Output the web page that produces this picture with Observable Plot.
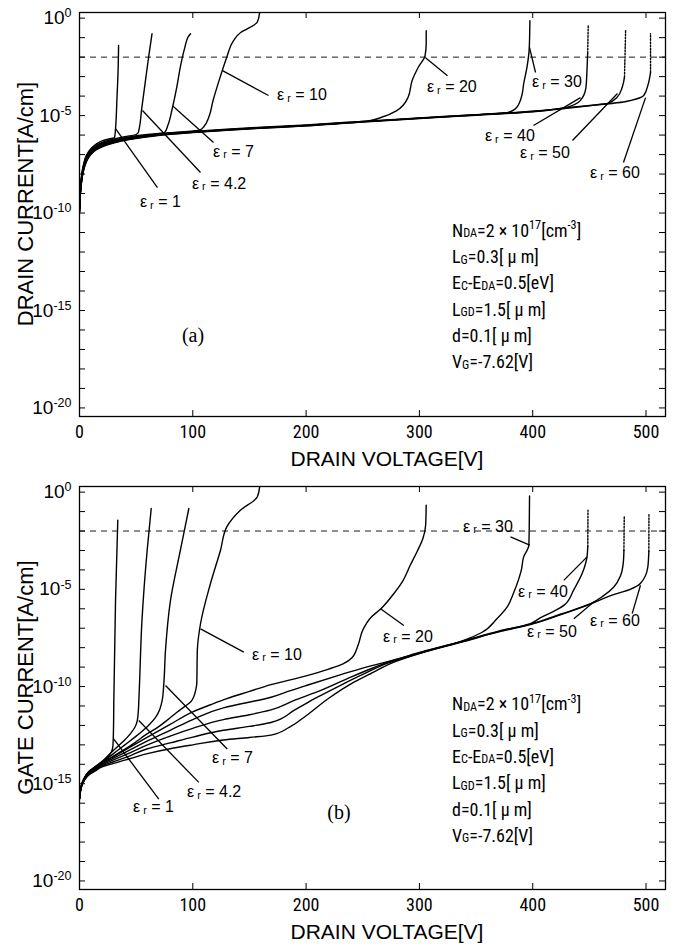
<!DOCTYPE html>
<html><head><meta charset="utf-8">
<script src="https://cdn.jsdelivr.net/npm/d3@7"></script>
<script src="https://cdn.jsdelivr.net/npm/@observablehq/plot@0.6"></script>
<style>
body{margin:0;background:#fff;}
svg{display:block;}
</style></head><body><div id="chart"></div>
<script>
// ---------- DATA: [drain voltage V, log10(current A/cm)] ----------
const xTicks = [0, 100, 200, 300, 400, 500];
const yLabelExps = [0, -5, -10, -15, -20];
const yDecadeExps = [0,-1,-2,-3,-4,-5,-6,-7,-8,-9,-10,-11,-12,-13,-14,-15,-16,-17,-18,-19,-20];
const criterionExp = [-2];
const erNames = ["1", "4.2", "7", "10", "20", "30", "40", "50", "60"];

// (a) drain current
const drainEr1 = [[0,-9.7],[1,-8.55],[3,-7.65],[6,-7.05],[10,-6.7],[15,-6.45],[20,-6.3],[26,-6.2],[31,-6.12],[32,-5.5],[33,-4.2],[34,-2.8],[34.5,-1.4]];
const drainEr4_2 = [[0,-9.75],[1,-8.62],[3,-7.72],[6,-7.12],[10,-6.77],[15,-6.52],[20,-6.37],[30,-6.2],[40,-6.08],[50,-5.97],[52,-5.85],[55,-4.6],[58,-3.3],[61,-2.0],[64,-0.8]];
const drainEr7 = [[0,-9.8],[1,-8.68],[3,-7.78],[6,-7.18],[10,-6.83],[15,-6.58],[20,-6.42],[30,-6.25],[45,-6.08],[60,-5.97],[75,-5.88],[78,-5.5],[82,-4.6],[86,-3.5],[89,-2.5],[93,-1.5],[96,-0.95],[98,-0.8]];
const drainEr10 = [[0,-9.85],[1,-8.72],[3,-7.82],[6,-7.22],[10,-6.87],[15,-6.62],[20,-6.47],[30,-6.3],[45,-6.12],[60,-6.0],[80,-5.88],[100,-5.79],[106,-5.75],[110,-5.55],[114,-5.1],[118,-4.2],[124,-3.05],[130,-2.0],[136,-1.15],[142,-0.75],[148,-0.55],[157,-0.2],[159,0.29]];
const drainEr20 = [[0,-9.9],[1,-8.76],[3,-7.86],[6,-7.26],[10,-6.9],[15,-6.65],[20,-6.5],[30,-6.32],[45,-6.15],[60,-6.02],[80,-5.9],[100,-5.82],[130,-5.7],[160,-5.6],[200,-5.48],[230,-5.37],[255,-5.27],[266,-5.1],[280,-4.74],[290,-4.06],[293.6,-3.2],[299,-2.52],[305,-1.92],[306,-1.3],[306,-0.65]];
const drainEr30 = [[0,-9.92],[1,-8.8],[3,-7.9],[6,-7.3],[10,-6.93],[15,-6.68],[20,-6.53],[30,-6.35],[45,-6.17],[60,-6.04],[80,-5.92],[100,-5.84],[130,-5.72],[160,-5.62],[200,-5.5],[250,-5.3],[300,-5.12],[350,-4.95],[378,-4.84],[386,-4.57],[390.7,-3.89],[392,-3.37],[395,-2.5],[397,-1.5],[397.5,-0.13]];
const drainEr40 = [[0,-9.95],[1,-8.82],[3,-7.92],[6,-7.32],[10,-6.95],[15,-6.7],[20,-6.55],[30,-6.37],[45,-6.19],[60,-6.06],[80,-5.94],[100,-5.85],[130,-5.73],[160,-5.63],[200,-5.51],[250,-5.31],[300,-5.13],[350,-4.96],[400,-4.78],[427,-4.62],[442,-4.23],[447,-3.55],[448,-2.52],[448.5,-1.8]];
const drainEr40Dot = [[448.5,-1.8],[449,-0.38]];
const drainEr50 = [[0,-9.97],[1,-8.85],[3,-7.95],[6,-7.35],[10,-6.97],[15,-6.72],[20,-6.57],[30,-6.39],[45,-6.2],[60,-6.07],[80,-5.95],[100,-5.86],[130,-5.74],[160,-5.64],[200,-5.52],[250,-5.32],[300,-5.14],[350,-4.97],[400,-4.79],[430,-4.6],[457,-4.44],[466,-4.38],[474.5,-4.06],[479,-3.55],[481,-3.03]];
const drainEr50Dot = [[481,-3.03],[482,-0.64]];
const drainEr60 = [[0,-10.0],[1,-8.88],[3,-7.98],[6,-7.38],[10,-7.0],[15,-6.75],[20,-6.6],[30,-6.41],[45,-6.22],[60,-6.09],[80,-5.96],[100,-5.87],[130,-5.75],[160,-5.65],[200,-5.53],[250,-5.33],[300,-5.15],[350,-4.98],[400,-4.8],[430,-4.62],[457,-4.45],[480,-4.3],[486,-4.23],[498,-3.97],[502,-3.37],[504,-2.78]];
const drainEr60Dot = [[504,-2.78],[504,-0.8]];

// (b) gate current
const gateEr1 = [[0,-15.7],[2,-15.0],[4,-14.72],[8,-14.38],[14,-14.12],[20,-13.88],[25,-13.62],[28,-13.38],[29.5,-13.05],[30,-12.2],[30.3,-10.7],[31.8,-5.57],[33.8,-1.44]];
const gateEr4_2 = [[0,-15.72],[2,-15.02],[4,-14.74],[8,-14.4],[14,-14.12],[20,-13.85],[27,-13.45],[33,-13.12],[39,-12.8],[45,-12.42],[49,-12.08],[51,-11.75],[52,-11.2],[52.4,-10.7],[55.3,-6.43],[59.7,-3.0],[63.3,-0.84]];
const gateEr7 = [[0,-15.74],[2,-15.04],[4,-14.76],[8,-14.42],[14,-14.15],[20,-13.88],[30,-13.45],[40,-13.0],[50,-12.55],[60,-12.05],[67,-11.6],[71,-11.15],[73,-10.7],[74.4,-9.86],[75.9,-8.14],[80.3,-5.57],[89,-3.0],[95,-1.27],[96.5,-0.84]];
const gateEr10 = [[0,-15.75],[2,-15.05],[4,-14.77],[8,-14.43],[14,-14.17],[20,-13.9],[27,-13.68],[38,-13.3],[48,-12.92],[58,-12.5],[69,-12.1],[78,-11.7],[86,-11.32],[93,-11.02],[98,-10.8],[101,-10.5],[102.5,-10.2],[103.5,-9.86],[104,-8.14],[106.8,-6.77],[115.6,-4.7],[124.4,-3.0],[130,-1.79],[142,-0.93],[157,-0.24],[159,0.27]];
const gateEr20 = [[0,-15.76],[2,-15.06],[4,-14.78],[8,-14.45],[14,-14.2],[20,-13.93],[30,-13.6],[45,-13.1],[60,-12.6],[80,-11.95],[100,-11.3],[115,-10.95],[130,-10.62],[150,-10.25],[169,-9.9],[200,-9.45],[220,-9.1],[233,-8.82],[240,-8.55],[246,-7.85],[250,-7.1],[258,-6.4],[266,-6.0],[277,-5.25],[285,-4.6],[292,-3.75],[298,-3.05],[303,-2.4],[305.5,-1.7],[306,-0.67]];
const gateEr30 = [[0,-15.77],[2,-15.07],[4,-14.8],[8,-14.47],[14,-14.23],[20,-13.98],[30,-13.68],[45,-13.25],[60,-12.8],[80,-12.25],[100,-11.7],[127,-11.1],[145,-10.86],[157,-10.72],[169,-10.55],[184,-10.25],[200,-9.95],[230,-9.4],[250,-9.05],[272,-8.72],[300,-8.25],[339,-7.63],[355,-7.22],[368.6,-6.5],[377.5,-5.9],[383,-5.2],[387.5,-4.5],[390,-4.0],[392,-3.33],[396.6,-2.73],[397,-1.5],[397.2,-0.2]];
const gateEr40 = [[0,-15.78],[2,-15.08],[4,-14.82],[8,-14.5],[14,-14.27],[20,-14.03],[30,-13.77],[45,-13.4],[60,-13.0],[80,-12.55],[100,-12.15],[127,-11.7],[150,-11.45],[169,-11.2],[190,-10.7],[213,-10.2],[240,-9.5],[260,-9.02],[272,-8.75],[300,-8.27],[339,-7.65],[370,-7.15],[398,-6.76],[407,-6.45],[418,-6.15],[428,-5.8],[436,-5.05],[443.6,-4.19],[448,-3.3],[448.6,-2.8]];
const gateEr40Dot = [[448.6,-2.8],[448.8,-0.93]];
const gateEr50 = [[0,-15.79],[2,-15.1],[4,-14.84],[8,-14.53],[14,-14.3],[20,-14.08],[30,-13.87],[45,-13.55],[60,-13.2],[80,-12.9],[100,-12.6],[127,-12.25],[150,-12.05],[169,-11.85],[190,-11.2],[210,-10.55],[230,-9.95],[250,-9.38],[272,-8.8],[300,-8.29],[339,-7.67],[370,-7.17],[398,-6.79],[425,-6.27],[451,-5.74],[462,-5.35],[471.6,-4.88],[477.5,-4.3],[480,-3.6],[480.5,-3.0]];
const gateEr50Dot = [[480.5,-3.0],[480.8,-1.19]];
const gateEr60 = [[0,-15.8],[2,-15.12],[4,-14.86],[8,-14.56],[14,-14.34],[20,-14.13],[30,-13.95],[45,-13.7],[60,-13.45],[80,-13.2],[100,-13.0],[127,-12.75],[150,-12.62],[169,-12.5],[185,-12.1],[200,-11.5],[220,-10.6],[240,-9.85],[260,-9.25],[272,-8.88],[300,-8.31],[339,-7.69],[370,-7.19],[398,-6.81],[425,-6.3],[451,-5.76],[470,-5.3],[486,-5.0],[495,-4.7],[501.6,-3.85],[502.5,-3.05]];
const gateEr60Dot = [[502.5,-3.05],[502.6,-1.1]];

// labels & leader lines (data coords)
const drainLabelPos = [[53.8,-9.72],[99.7,-8.79],[118.3,-7.15],[174.8,-4.23],[307.1,-3.82],[399.8,-3.56],[358.3,-6.33],[389.2,-7.21],[451,-8.23]];
const drainLeaders = [[31.8,-5.67,68.8,-8.69],[55.6,-4.74,106.8,-7.92],[82.1,-4.49,118.3,-6.38],[126.2,-2.69,166.8,-3.97],[305.4,-2.03,324.8,-2.95],[397.2,-1.51,402.5,-2.79],[442.2,-4.08,400.7,-5.51],[474.8,-3.87,435.1,-6.28],[499.6,-4.08,480.1,-7.41]];
const gateLabelPos = [[47.7,-16.49],[95.3,-15.72],[117.4,-13.97],[152.7,-8.66],[268.3,-7.73],[338.9,-2.06],[387.5,-5.41],[395.4,-7.47],[451,-6.91]];
const gateLeaders = [[30.3,-12.7,70,-15.79],[52.3,-11.75,105.3,-14.93],[75.9,-9.95,130.4,-13.21],[106.8,-7.03,145,-8.23],[265.7,-6.0,286.2,-6.86],[397.4,-2.73,380.4,-2.3],[448,-3.33,427.4,-4.54],[453.9,-5.65,436.3,-6.51],[495.1,-4.79,487.8,-6.25]];

const paramLines = [
  [["N"],["DA","sub"],["=2 × 10"],["17","sup"],["[cm"],["-3","sup"],["]"]],
  [["L"],["G","sub"],["=0.3[ μ m]"]],
  [["E"],["C","sub"],["-E"],["DA","sub"],["=0.5[eV]"]],
  [["L"],["GD","sub"],["=1.5[ μ m]"]],
  [["d=0.1[ μ m]"]],
  [["V"],["G","sub"],["=-7.62[V]"]]
];
const paramAnchor = [329.2, -11.25];
const xAxisTitle = "DRAIN VOLTAGE[V]";

const panels = [
  {
    yTitle: "DRAIN CURRENT[A/cm]", tag: "(a)", tagPos: [100.6, -16.28],
    solid: [drainEr1, drainEr4_2, drainEr7, drainEr10, drainEr20, drainEr30, drainEr40, drainEr50, drainEr60],
    dotted: [drainEr40Dot, drainEr50Dot, drainEr60Dot],
    labelPos: drainLabelPos, leaders: drainLeaders,
    height: 470, marginTop: 12, marginBottom: 54
  },
  {
    yTitle: "GATE CURRENT[A/cm]", tag: "(b)", tagPos: [229.5, -16.5],
    solid: [gateEr1, gateEr4_2, gateEr7, gateEr10, gateEr20, gateEr30, gateEr40, gateEr50, gateEr60],
    dotted: [gateEr40Dot, gateEr50Dot, gateEr60Dot],
    labelPos: gateLabelPos, leaders: gateLeaders,
    height: 478, marginTop: 16, marginBottom: 59
  }
];

// ---------- DRAWING ----------
const W = 683, ML = 79, MR = 18;
const FW = W - ML - MR;
const SANS = "'Liberation Sans', Arial, Helvetica, sans-serif";
const NARROW = "'Liberation Sans Narrow', 'Arial Narrow', 'Roboto Condensed', 'DejaVu Sans Condensed', 'Liberation Sans', sans-serif";
const yDomain = [10 ** -20.44, 10 ** 0.29];
const pow = e => 10 ** e;

function richText(g, x, y, parts, opts) {
  const t = g.append("text").attr("x", x).attr("y", y)
    .attr("font-family", opts.family).attr("font-size", opts.size).attr("fill", "black")
    .attr("text-anchor", opts.anchor || "start");
  let shift = 0;
  for (const [s, kind] of parts) {
    const sp = t.append("tspan").text(s);
    let target = 0, fs = opts.size;
    if (kind === "sub") { target = opts.subDy ?? 2; fs = opts.size * 0.68; }
    if (kind === "sup") { target = -(opts.size * 0.42); fs = opts.size * 0.68; }
    sp.attr("dy", target - shift).attr("font-size", fs);
    shift = target;
  }
  return t;
}

const root = d3.select("#chart");
for (const p of panels) {
  const FH = p.height - p.marginTop - p.marginBottom;
  const series = p.solid.map((arr, i) => arr.map(d => ({v: d[0], e: d[1], k: i})));
  const dotted = p.dotted.map((arr, i) => arr.map(d => ({v: d[0], e: d[1], k: i})));
  const plot = Plot.plot({
    width: W, height: p.height,
    marginLeft: ML, marginRight: MR, marginTop: p.marginTop, marginBottom: p.marginBottom,
    style: {fontFamily: SANS, background: "white", color: "black"},
    x: {domain: [0, 517.2]},
    y: {type: "log", domain: yDomain},
    marks: [
      Plot.ruleY(criterionExp, {y: pow, stroke: "black", strokeWidth: 0.9, strokeDasharray: "6,5"}),
      ...series.map(s => Plot.line(s, {x: "v", y: d => pow(d.e), stroke: "black", strokeWidth: 1.4, curve: "monotone-y", clip: true})),
      ...dotted.map(s => Plot.line(s, {x: "v", y: d => pow(d.e), stroke: "black", strokeWidth: 1.4, strokeDasharray: "1.6,1.6", clip: true})),
      Plot.link(p.leaders, {x1: d => d[0], y1: d => pow(d[1]), x2: d => d[2], y2: d => pow(d[3]), stroke: "black", strokeWidth: 1.3}),
      Plot.tickX(xTicks.slice(1), {x: d => d, insetTop: FH - 6, stroke: "black", strokeWidth: 1}),
      Plot.tickX(xTicks.slice(1), {x: d => d, insetBottom: FH - 6, stroke: "black", strokeWidth: 1}),
      Plot.tickY(yDecadeExps, {y: pow, insetRight: FW - 6, stroke: "black", strokeWidth: 1}),
      Plot.tickY(yDecadeExps, {y: pow, insetLeft: FW - 6, stroke: "black", strokeWidth: 1}),
      Plot.axisX(xTicks, {tickSize: 0, tickPadding: 9, fontFamily: NARROW, fontSize: 18, label: null}),
      Plot.axisY(yLabelExps.map(pow), {tickSize: 0, tickPadding: 8, fontFamily: SANS, fontSize: 19, label: null,
        tickFormat: d => String(Math.round(Math.log10(d)))}),
      Plot.frame({stroke: "black", strokeWidth: 1.3})
    ]
  });
  root.node().appendChild(plot);
  const svg = d3.select(plot);
  const sx = plot.scale("x").apply, sy = plot.scale("y").apply;

  // superscript tick labels
  svg.selectAll('g[aria-label="y-axis tick label"] text').each(function() {
    const e = this.textContent;
    const t = d3.select(this);
    t.text("");
    t.append("tspan").text("10");
    t.append("tspan").text(e).attr("dy", "-0.55em").attr("font-size", 12.5);
  });

  const g = svg.append("g");
  // axis titles
  g.append("text").attr("x", 387).attr("y", p.height - p.marginBottom + 42)
    .attr("text-anchor", "middle").attr("dominant-baseline", "central")
    .attr("font-family", SANS).attr("font-size", 21).text(xAxisTitle);
  g.append("text").attr("transform", `translate(25,${p.marginTop + FH / 2 - 10}) rotate(-90)`)
    .attr("text-anchor", "middle").attr("dominant-baseline", "central")
    .attr("font-family", SANS).attr("font-size", 22).text(p.yTitle);

  // panel tag
  g.append("text").attr("x", sx(p.tagPos[0])).attr("y", sy(pow(p.tagPos[1])))
    .attr("text-anchor", "middle").attr("dominant-baseline", "central")
    .attr("font-family", "'Liberation Serif', 'Times New Roman', serif").attr("font-size", 20).text(p.tag);

  // curve labels
  p.labelPos.forEach((pos, i) => {
    richText(g, sx(pos[0]), sy(pow(pos[1])), [["ε"], [" r", "sub"], [" = " + erNames[i]]],
      {family: SANS, size: 16, subDy: 1.5});
  });

  // parameter block
  paramLines.forEach((parts, i) => {
    richText(g, sx(paramAnchor[0]), sy(pow(paramAnchor[1])) + i * 26.3, parts,
      {family: NARROW, size: 18, subDy: 0.5});
  });
}
</script></body></html>
